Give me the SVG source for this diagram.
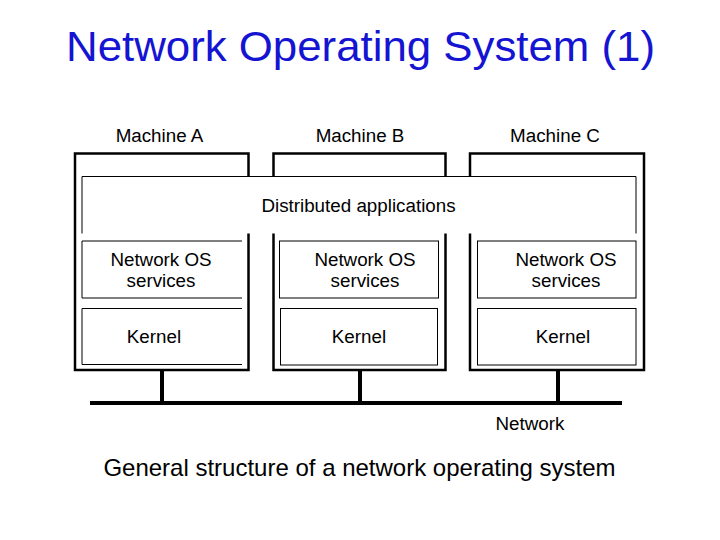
<svg xmlns="http://www.w3.org/2000/svg" width="720" height="540" viewBox="0 0 720 540">
<style>
.t{font-family:"Liberation Sans",Arial,sans-serif;font-size:18.8px;fill:#000;text-anchor:middle}
.outer{fill:none;stroke:#000;stroke-width:2.5}
.thin{fill:#fff;stroke:#000;stroke-width:1}
.bus{stroke:#000;stroke-width:4;fill:none}
</style>
<rect width="720" height="540" fill="#fff"/>
<text x="360.5" y="61" textLength="589" lengthAdjust="spacingAndGlyphs" style="font-family:'Liberation Sans',Arial,sans-serif;font-size:42px;fill:#1414d2;text-anchor:middle">Network Operating System (1)</text>
<g id="machineA">
<rect class="outer" x="75" y="153.5" width="173.5" height="216.5"/>
<text class="t" x="159.5" y="142">Machine A</text>
</g>
<g id="machineB">
<rect class="outer" x="273.5" y="153.5" width="172" height="216.5"/>
<text class="t" x="360" y="142">Machine B</text>
</g>
<g id="machineC">
<rect class="outer" x="470" y="153.5" width="174" height="216.5"/>
<text class="t" x="555" y="142">Machine C</text>
</g>
<g id="distributed">
<rect x="82" y="176.5" width="554" height="57" fill="#fff" stroke="none"/>
<path d="M82,233.5 V176.5 H636 V233.5" fill="none" stroke="#000" stroke-width="1"/>
<text class="t" x="358.5" y="212">Distributed applications</text>
</g>
<g id="nosA">
<rect x="82" y="241" width="160" height="57" fill="#fff"/>
<path d="M242,241 H82 V298 H242" fill="none" stroke="#000" stroke-width="1"/>
<text class="t" x="161" y="266">Network OS</text>
<text class="t" x="161" y="287">services</text>
</g>
<g id="kernelA">
<rect x="82" y="308.5" width="160" height="56" fill="#fff"/>
<path d="M242,308.5 H82 V364.5 H242" fill="none" stroke="#000" stroke-width="1"/>
<text class="t" x="154" y="343">Kernel</text>
</g>
<g id="nosB">
<rect class="thin" x="279.5" y="241" width="159" height="57"/>
<text class="t" x="365" y="266">Network OS</text>
<text class="t" x="365" y="287">services</text>
</g>
<g id="kernelB">
<rect class="thin" x="280.5" y="308.5" width="157" height="56.5"/>
<text class="t" x="359" y="343">Kernel</text>
</g>
<g id="nosC">
<rect class="thin" x="477.5" y="241" width="158.5" height="57"/>
<text class="t" x="566" y="266">Network OS</text>
<text class="t" x="566" y="287">services</text>
</g>
<g id="kernelC">
<rect class="thin" x="477.5" y="308.5" width="158.5" height="56.5"/>
<text class="t" x="563" y="343">Kernel</text>
</g>
<g id="connectors">
<path class="bus" d="M90,403 H622"/>
<path class="bus" d="M162,370 V403 M360,370 V403 M558,370 V403"/>
</g>
<g id="network">
<text class="t" x="530" y="430">Network</text>
</g>
<text x="359.5" y="476" style="font-family:'Liberation Sans',Arial,sans-serif;font-size:24px;fill:#000;text-anchor:middle">General structure of a network operating system</text>
</svg>
